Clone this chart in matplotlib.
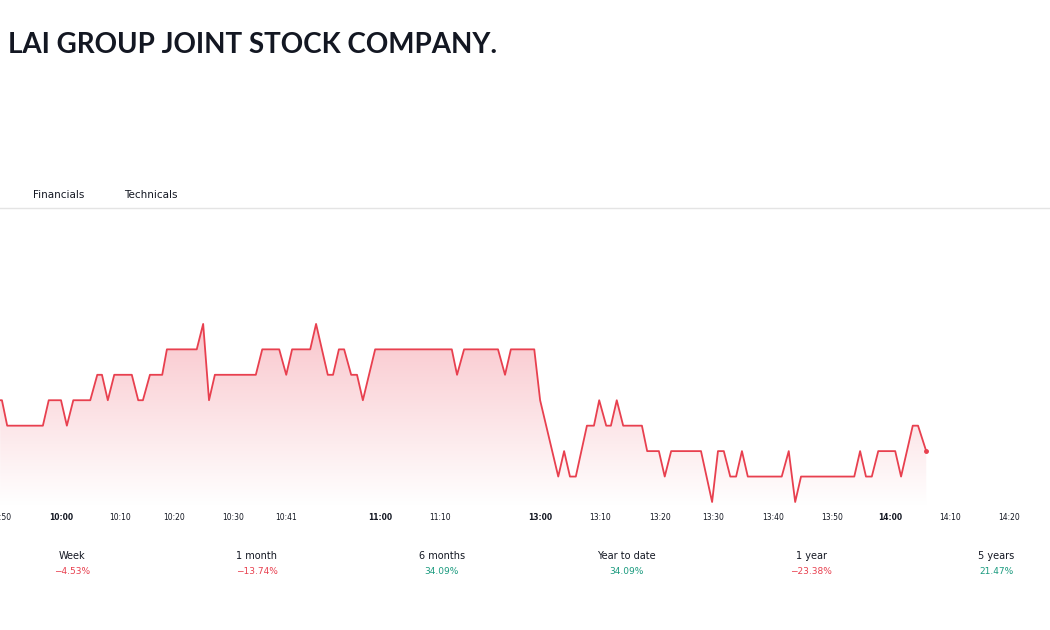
#!/usr/bin/env python

import matplotlib.pyplot as plt
import numpy as np
from matplotlib.colors import LinearSegmentedColormap

TITLE = "LAI GROUP JOINT STOCK COMPANY."
TABS = ["Financials", "Technicals"]

# intraday price path (turning points), x = session minutes from 10:00
t = [-10.4, -10.1, -9.2, -3.1, -2.1, 0.0, 1.0, 2.1, 5.0, 6.2,
     7.0, 8.0, 9.1, 12.1, 13.2, 14.0, 15.2, 17.3, 18.1, 23.2,
     24.3, 25.3, 26.3, 33.3, 34.4, 37.3, 38.5, 39.5, 42.6, 43.6,
     45.6, 46.5, 47.5, 48.4, 49.6, 50.6, 51.6, 53.7, 66.8, 67.7,
     68.9, 74.7, 75.9, 76.9, 80.9, 81.9, 85.0, 86.0, 87.0, 88.0,
     89.9, 91.1, 92.0, 93.2, 94.0, 95.0, 96.1, 99.3, 100.2, 102.2,
     103.2, 104.3, 109.4, 111.3, 112.3, 113.3, 114.4, 115.4, 116.4, 117.4,
     123.2, 124.4, 125.5, 126.5, 135.6, 136.6, 137.6, 138.6, 139.7, 142.6,
     143.6, 145.6, 146.5, 147.9]
# price in ticks above the session low
lvl = [4, 4, 3, 3, 4, 4, 3, 4, 4, 5,
       5, 4, 5, 5, 4, 4, 5, 5, 6, 6,
       7, 4, 5, 5, 6, 6, 5, 6, 6, 7,
       5, 5, 6, 6, 5, 5, 4, 6, 6, 5,
       6, 6, 5, 6, 6, 4, 1, 2, 1, 1,
       3, 3, 4, 3, 3, 4, 3, 3, 2, 2,
       1, 2, 2, 0, 2, 2, 1, 1, 2, 1,
       1, 2, 0, 1, 1, 2, 1, 1, 2, 2,
       1, 3, 3, 2]
TICK_SIZE = 0.05
BASE_PRICE = 12.60
price = [BASE_PRICE + TICK_SIZE * v for v in lvl]

tick_pos = [-9.9, 0.0, 10.1, 19.3, 29.4, 38.5, 54.5, 64.8, 81.9, 92.1, 102.4,
            111.5, 121.7, 131.8, 141.7, 152.0, 162.0]
tick_labels = ["9:50", "10:00", "10:10", "10:20", "10:30", "10:41", "11:00",
               "11:10", "13:00", "13:10", "13:20", "13:30", "13:40", "13:50",
               "14:00", "14:10", "14:20"]
bold_ticks = ["10:00", "11:00", "13:00", "14:00"]

periods = ["Week", "1 month", "6 months", "Year to date", "1 year", "5 years"]
changes = [-4.53, -13.74, 34.09, 34.09, -23.38, 21.47]

RED = "#e8404f"
GREEN = "#1a9a7e"

fig = plt.figure(figsize=(10.5, 6.3), dpi=100)
fig.patch.set_facecolor("white")

# header, shrunk to the width it takes on the page
title = fig.text(8 / 1050, 1 - 45 / 630, TITLE, fontsize=24, fontweight="bold",
                 family=["Lato", "DejaVu Sans"], color="#131722",
                 va="center", ha="left")
renderer = fig.canvas.get_renderer()
w = title.get_window_extent(renderer).width
title.set_fontsize(24 * 489 / w)

for name, px in zip(TABS, [33, 124]):
    fig.text(px / 1050, 1 - 195 / 630, name, fontsize=7.5, color="#131722",
             va="center", ha="left")
fig.add_artist(plt.Line2D([0, 1], [1 - 208.5 / 630] * 2, color="#e4e4e4", lw=1))

# price chart
ax = fig.add_axes([0, 1 - 505 / 630, 1, 205 / 630])
xmin, xmax = -10.43, 169.06
ymin = BASE_PRICE + TICK_SIZE * (-0.118)
ymax = BASE_PRICE + TICK_SIZE * 7.94

poly = ax.fill_between(t, price, ymin, color="none", lw=0)
cmap = LinearSegmentedColormap.from_list("fade", ["#ffffff", "#f9c6cc"])
grad = np.linspace(0, 1, 256).reshape(-1, 1)
img = ax.imshow(grad, extent=[xmin, xmax, ymin, BASE_PRICE + TICK_SIZE * 7],
                aspect="auto", origin="lower", cmap=cmap, zorder=1)
img.set_clip_path(poly.get_paths()[0], transform=ax.transData)
ax.set_xlim(xmin, xmax)
ax.set_ylim(ymin, ymax)

ax.plot(t, price, color=RED, lw=1.3, zorder=3)
ax.plot(t[-1], price[-1], "o", color=RED, ms=2.5, zorder=4)

ax.set_xticks(tick_pos)
ax.set_xticklabels(tick_labels)
for lab in ax.get_xticklabels():
    lab.set_fontsize(5.5)
    lab.set_color("#131722")
    if lab.get_text() in bold_ticks:
        lab.set_fontweight("bold")
ax.tick_params(axis="x", length=0, pad=6)
ax.set_yticks([])
for s in ax.spines.values():
    s.set_visible(False)

# period performance
for i, (p, c) in enumerate(zip(periods, changes)):
    cx = (72 + i * 184.8) / 1050
    fig.text(cx, 1 - 556 / 630, p, fontsize=7, color="#131722",
             ha="center", va="center")
    txt = f"{c:.2f}%".replace("-", "\u2212")
    fig.text(cx, 1 - 571 / 630, txt, fontsize=6.5,
             color=RED if c < 0 else GREEN, ha="center", va="center")

fig.savefig("out.png", dpi=100)
